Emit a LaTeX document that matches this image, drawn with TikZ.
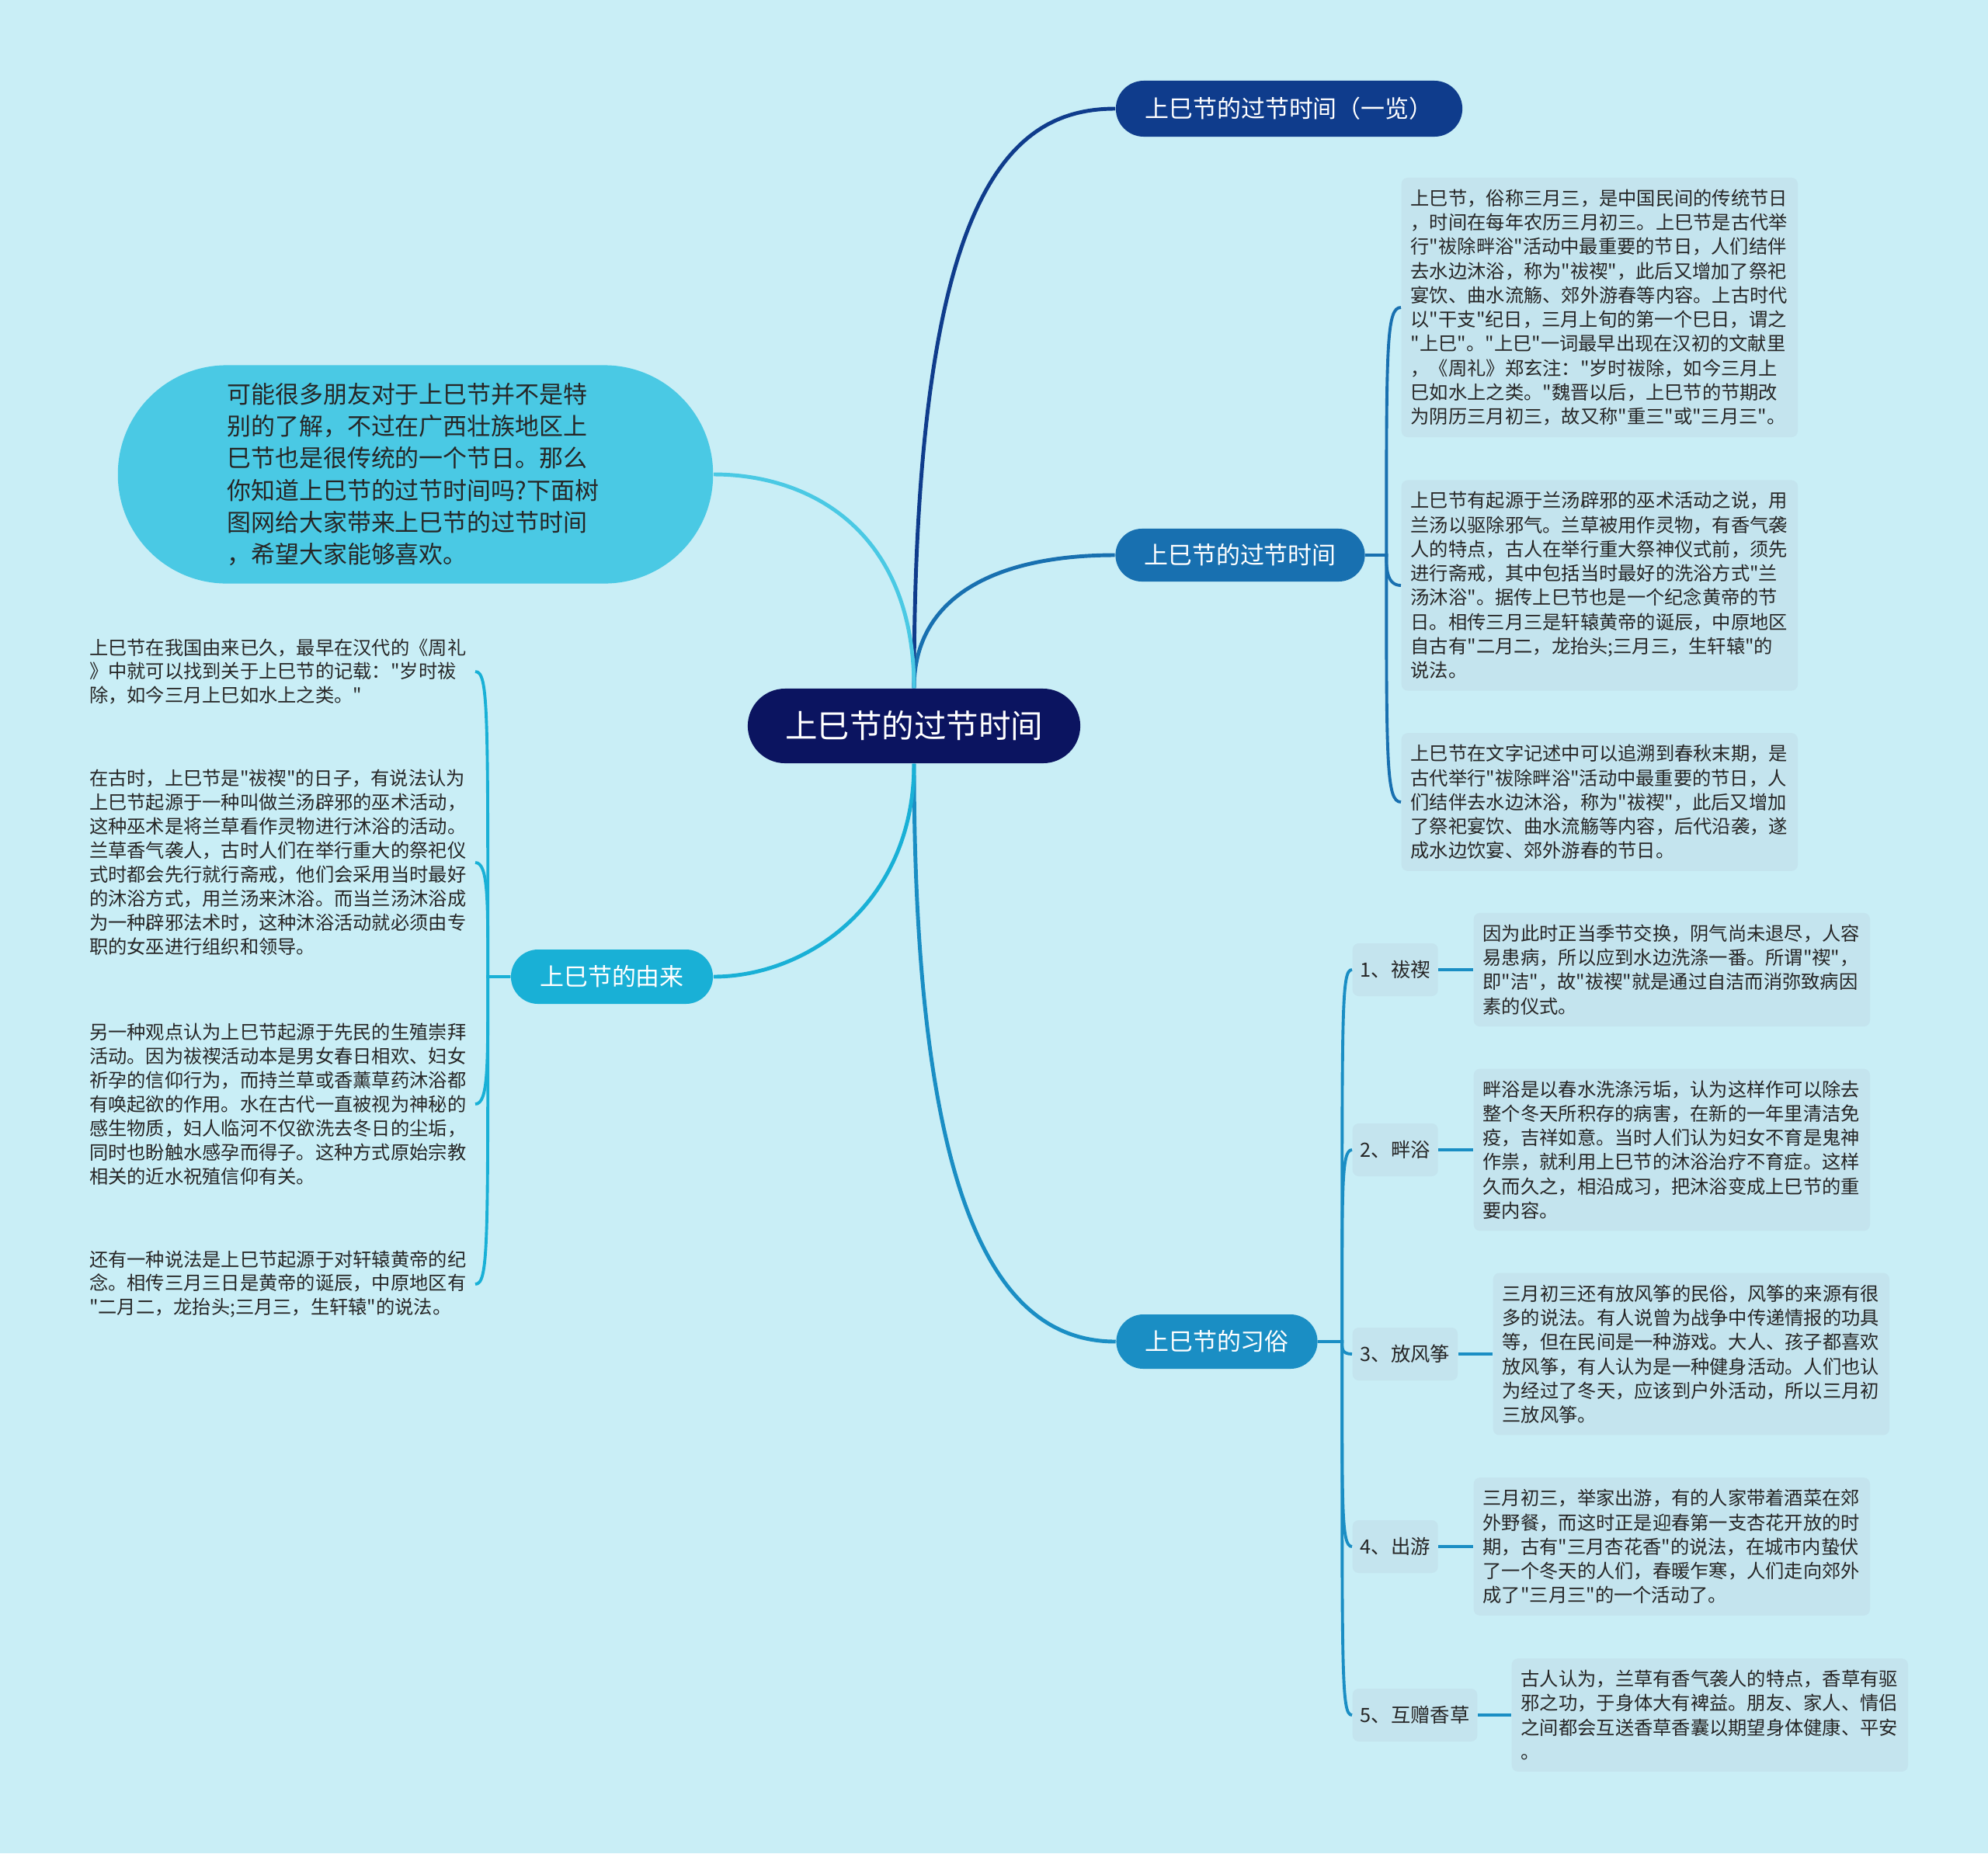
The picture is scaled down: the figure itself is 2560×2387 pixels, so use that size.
\documentclass[tikz,border=0pt]{standalone}
\usepackage{fontspec}
\setmainfont{Noto Sans CJK SC}[Ligatures=TeXOff]

\definecolor{bgc}{HTML}{C9EEF6}
\definecolor{rootc}{HTML}{0B1460}
\definecolor{topc}{HTML}{0F3C8C}
\definecolor{timec}{HTML}{1870B0}
\definecolor{customc}{HTML}{1A8EC4}
\definecolor{originc}{HTML}{19B0D6}
\definecolor{introc}{HTML}{4AC9E4}
\definecolor{boxc}{HTML}{C4E4EE}
\definecolor{txtc}{HTML}{262626}

\tikzset{
  branch/.style={text=white, font=\fontsize{8.8pt}{10pt}\selectfont, minimum height=0.7cm, rounded corners=0.35cm, inner sep=0pt},
  detail/.style={anchor=west, fill=boxc, rounded corners=0.08cm, text width=4.86cm, align=left,
    inner xsep=0.12cm, inner ysep=0.15cm, text=txtc, font=\fontsize{6.9pt}{8.88pt}\selectfont},
  plain/.style={anchor=east, text width=4.9cm, align=left, inner xsep=0.06cm, text=txtc,
    font=\fontsize{6.9pt}{8.8pt}\selectfont},
  tag/.style={anchor=west, fill=boxc, rounded corners=0.08cm, minimum height=0.68cm, inner xsep=0.1cm,
    text=txtc, font=\fontsize{7.2pt}{9pt}\selectfont},
  link/.style={line width=1.4pt},
  twig/.style={line width=1.1pt}
}

\begin{document}
\begin{tikzpicture}[x=0.01cm, y=-0.01cm]

\fill[bgc] (0,0) rectangle (2560,2387);

% root and main branches
\node[fill=rootc, text=white, font=\fontsize{11.8pt}{13pt}\selectfont, minimum width=4.28cm, minimum height=0.96cm, rounded corners=0.48cm] (root) at (1177,935) {上巳节的过节时间};
\node[branch, fill=topc, minimum width=4.46cm, minimum height=0.72cm, rounded corners=0.36cm] (top) at (1660,140) {上巳节的过节时间（一览）};
\node[branch, fill=timec, minimum width=3.21cm, minimum height=0.68cm, rounded corners=0.34cm] (time) at (1597,715) {上巳节的过节时间};
\node[branch, fill=customc, minimum width=2.59cm] (custom) at (1567,1728) {上巳节的习俗};
\node[branch, fill=originc, minimum width=2.60cm] (origin) at (788,1258) {上巳节的由来};
\node[fill=introc, minimum width=7.66cm, minimum height=2.81cm, rounded corners=1.4cm, text width=4.85cm, align=left, text=txtc, font=\fontsize{8.8pt}{11.75pt}\selectfont] (intro) at (535,611) {可能很多朋友对于上巳节并不是特\\别的了解，不过在广西壮族地区上\\巳节也是很传统的一个节日。那么\\你知道上巳节的过节时间吗?下面树\\图网给大家带来上巳节的过节时间\\，希望大家能够喜欢。};

\draw[link, topc] (root.north) .. controls +(0,-637) and +(-137,0) .. (top.west);
\draw[link, timec] (root.north) .. controls +(0,-120) and +(-150,0) .. (time.west);
\draw[link, introc] (root.north) .. controls +(0,-200) and +(127,0) .. (intro.east);
\draw[link, customc] (root.south) .. controls +(0,600) and +(-140,0) .. (custom.west);
\draw[link, originc] (root.south) .. controls +(0,180) and +(120,0) .. (origin.east);

% time details
\node[detail] (a1) at (1804,396) {上巳节，俗称三月三，是中国民间的传统节日\\，时间在每年农历三月初三。上巳节是古代举\\行"祓除畔浴"活动中最重要的节日，人们结伴\\去水边沐浴，称为"祓禊"，此后又增加了祭祀\\宴饮、曲水流觞、郊外游春等内容。上古时代\\以"干支"纪日，三月上旬的第一个巳日，谓之\\"上巳"。"上巳"一词最早出现在汉初的文献里\\，《周礼》郑玄注："岁时祓除，如今三月上\\巳如水上之类。"魏晋以后，上巳节的节期改\\为阴历三月初三，故又称"重三"或"三月三"。};
\node[detail] (a2) at (1804,754) {上巳节有起源于兰汤辟邪的巫术活动之说，用\\兰汤以驱除邪气。兰草被用作灵物，有香气袭\\人的特点，古人在举行重大祭神仪式前，须先\\进行斋戒，其中包括当时最好的洗浴方式"兰\\汤沐浴"。据传上巳节也是一个纪念黄帝的节\\日。相传三月三是轩辕黄帝的诞辰，中原地区\\自古有"二月二，龙抬头;三月三，生轩辕"的\\说法。};
\node[detail] (a3) at (1804,1033) {上巳节在文字记述中可以追溯到春秋末期，是\\古代举行"祓除畔浴"活动中最重要的节日，人\\们结伴去水边沐浴，称为"祓禊"，此后又增加\\了祭祀宴饮、曲水流觞等内容，后代沿袭，遂\\成水边饮宴、郊外游春的节日。};

\draw[twig, timec] (time.east) -- ++(27,0) .. controls +(0,-270) and +(-19,0) .. (a1.west);
\draw[twig, timec] (time.east) -- ++(27,0) .. controls +(0,15) and +(-19,0) .. (a2.west);
\draw[twig, timec] (time.east) -- ++(27,0) .. controls +(0,268) and +(-19,0) .. (a3.west);

% customs
\node[tag] (l1) at (1741,1249) {1、祓禊};
\node[tag] (l2) at (1741,1481) {2、畔浴};
\node[tag] (l3) at (1741,1744) {3、放风筝};
\node[tag] (l4) at (1741,1992) {4、出游};
\node[tag] (l5) at (1741,2209) {5、互赠香草};

\node[detail] (d1) at (1897,1249) {因为此时正当季节交换，阴气尚未退尽，人容\\易患病，所以应到水边洗涤一番。所谓"禊"，\\即"洁"，故"祓禊"就是通过自洁而消弥致病因\\素的仪式。};
\node[detail] (d2) at (1897,1481) {畔浴是以春水洗涤污垢，认为这样作可以除去\\整个冬天所积存的病害，在新的一年里清洁免\\疫，吉祥如意。当时人们认为妇女不育是鬼神\\作祟，就利用上巳节的沐浴治疗不育症。这样\\久而久之，相沿成习，把沐浴变成上巳节的重\\要内容。};
\node[detail] (d3) at (1922,1744) {三月初三还有放风筝的民俗，风筝的来源有很\\多的说法。有人说曾为战争中传递情报的功具\\等，但在民间是一种游戏。大人、孩子都喜欢\\放风筝，有人认为是一种健身活动。人们也认\\为经过了冬天，应该到户外活动，所以三月初\\三放风筝。};
\node[detail] (d4) at (1897,1992) {三月初三，举家出游，有的人家带着酒菜在郊\\外野餐，而这时正是迎春第一支杏花开放的时\\期，古有"三月杏花香"的说法，在城市内蛰伏\\了一个冬天的人们，春暖乍寒，人们走向郊外\\成了"三月三"的一个活动了。};
\node[detail] (d5) at (1946,2209) {古人认为，兰草有香气袭人的特点，香草有驱\\邪之功，于身体大有裨益。朋友、家人、情侣\\之间都会互送香草香囊以期望身体健康、平安\\。};

\draw[twig, customc] (custom.east) -- ++(31,0) .. controls +(0,-429) and +(-14,0) .. (l1.west);
\draw[twig, customc] (custom.east) -- ++(31,0) .. controls +(0,-197) and +(-14,0) .. (l2.west);
\draw[twig, customc] (custom.east) -- ++(31,0) .. controls +(0,8) and +(-14,0) .. (l3.west);
\draw[twig, customc] (custom.east) -- ++(31,0) .. controls +(0,214) and +(-14,0) .. (l4.west);
\draw[twig, customc] (custom.east) -- ++(31,0) .. controls +(0,431) and +(-14,0) .. (l5.west);
\draw[twig, customc] (l1.east) -- (d1.west);
\draw[twig, customc] (l2.east) -- (d2.west);
\draw[twig, customc] (l3.east) -- (d3.west);
\draw[twig, customc] (l4.east) -- (d4.west);
\draw[twig, customc] (l5.east) -- (d5.west);

% origin
\node[plain] (t1) at (612,865) {上巳节在我国由来已久，最早在汉代的《周礼\\》中就可以找到关于上巳节的记载："岁时祓\\除，如今三月上巳如水上之类。"};
\node[plain] (t2) at (612,1111) {在古时，上巳节是"祓禊"的日子，有说法认为\\上巳节起源于一种叫做兰汤辟邪的巫术活动，\\这种巫术是将兰草看作灵物进行沐浴的活动。\\兰草香气袭人，古时人们在举行重大的祭祀仪\\式时都会先行就行斋戒，他们会采用当时最好\\的沐浴方式，用兰汤来沐浴。而当兰汤沐浴成\\为一种辟邪法术时，这种沐浴活动就必须由专\\职的女巫进行组织和领导。};
\node[plain] (t3) at (612,1422) {另一种观点认为上巳节起源于先民的生殖崇拜\\活动。因为祓禊活动本是男女春日相欢、妇女\\祈孕的信仰行为，而持兰草或香薰草药沐浴都\\有唤起欲的作用。水在古代一直被视为神秘的\\感生物质，妇人临河不仅欲洗去冬日的尘垢，\\同时也盼触水感孕而得子。这种方式原始宗教\\相关的近水祝殖信仰有关。};
\node[plain] (t4) at (612,1654) {还有一种说法是上巳节起源于对轩辕黄帝的纪\\念。相传三月三日是黄帝的诞辰，中原地区有\\"二月二，龙抬头;三月三，生轩辕"的说法。};

\draw[twig, originc] (origin.west) -- ++(-29,0) .. controls +(0,-343) and +(17,0) .. (t1.east);
\draw[twig, originc] (origin.west) -- ++(-29,0) .. controls +(0,-97) and +(17,0) .. (t2.east);
\draw[twig, originc] (origin.west) -- ++(-29,0) .. controls +(0,114) and +(17,0) .. (t3.east);
\draw[twig, originc] (origin.west) -- ++(-29,0) .. controls +(0,346) and +(17,0) .. (t4.east);

\end{tikzpicture}
\end{document}
